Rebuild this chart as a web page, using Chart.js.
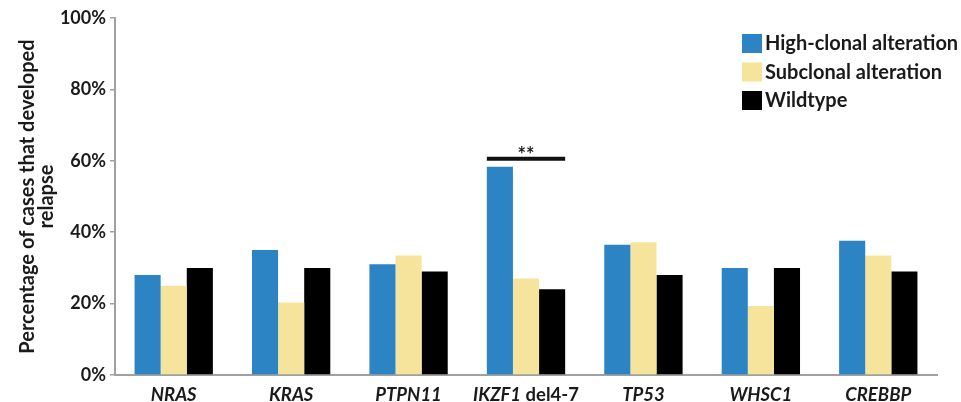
<!DOCTYPE html>
<html>
<head>
<meta charset="utf-8">
<script src="https://cdn.jsdelivr.net/npm/chart.js@4.4.0/dist/chart.umd.min.js"></script>
<style>
  html, body { margin: 0; padding: 0; background: #ffffff; }
  #wrap { width: 961px; height: 402px; position: relative; }
</style>
</head>
<body>
<div id="wrap"><canvas id="c" width="961" height="402"></canvas></div>
<script>
// Relapse rate (%) by alteration status for each gene
const categories = ['NRAS', 'KRAS', 'PTPN11', 'IKZF1 del4-7', 'TP53', 'WHSC1', 'CREBBP'];
const highClonal = [28, 35, 31, 58.3, 36.5, 30, 37.6];
const subclonal = [25, 20.3, 33.5, 27, 37.2, 19.3, 33.5];
const wildtype = [30, 30, 29, 24, 28, 30, 29];
const seriesNames = ['High-clonal alteration', 'Subclonal alteration', 'Wildtype'];
const yTicks = [0, 20, 40, 60, 80, 100];
const yTitle = ['Percentage of cases that developed', 'relapse'];
const significance = { category: 'IKZF1 del4-7', label: '**', level: 60.6 };

const COLORS = ['#2d84c5', '#f6e49c', '#000000'];
const TEXT = '#1a1a1a';
const AXIS = '#a0a0a0';
const FONT = 'Lato, "Open Sans", sans-serif';

// Axis title, legend, category labels (gene name italic) and significance bracket
const decorations = {
  id: 'decorations',
  afterDraw(chart) {
    const ctx = chart.ctx;
    const area = chart.chartArea;
    const x = chart.scales.x;
    ctx.save();

    // y-axis title
    ctx.save();
    ctx.translate(28, (area.top + area.bottom) / 2);
    ctx.rotate(-Math.PI / 2);
    ctx.fillStyle = TEXT;
    ctx.font = 'bold 20px ' + FONT;
    ctx.textAlign = 'center';
    ctx.textBaseline = 'middle';
    yTitle.forEach((line, i) => ctx.fillText(line, 0, i * 19));
    ctx.restore();

    // category labels: gene name italic, suffix upright
    ctx.fillStyle = TEXT;
    ctx.textBaseline = 'middle';
    const lf = 18.5;
    categories.forEach((cat, i) => {
      const cx = x.getPixelForValue(i);
      const sp = cat.indexOf(' ');
      const gene = sp < 0 ? cat : cat.slice(0, sp);
      const rest = sp < 0 ? '' : cat.slice(sp);
      ctx.font = 'italic bold ' + lf + 'px ' + FONT;
      const wg = ctx.measureText(gene).width;
      ctx.font = 'bold ' + lf + 'px ' + FONT;
      const wr = ctx.measureText(rest).width;
      const sx = cx - (wg + wr) / 2;
      ctx.textAlign = 'left';
      ctx.font = 'italic bold ' + lf + 'px ' + FONT;
      ctx.fillText(gene, sx, area.bottom + 20);
      ctx.font = 'bold ' + lf + 'px ' + FONT;
      ctx.fillText(rest, sx + wg, area.bottom + 20);
    });

    // legend
    const lx = 742, ly = 34, step = 28.5;
    seriesNames.forEach((name, i) => {
      ctx.fillStyle = COLORS[i];
      ctx.fillRect(lx, ly + i * step, 20, 19);
      ctx.fillStyle = TEXT;
      ctx.font = 'bold 20px ' + FONT;
      ctx.textAlign = 'left';
      ctx.textBaseline = 'middle';
      ctx.fillText(name, lx + 23, ly + i * step + 10);
    });

    // significance bracket over the high-clonal vs wildtype bars
    const idx = categories.indexOf(significance.category);
    const first = chart.getDatasetMeta(0).data[idx];
    const last = chart.getDatasetMeta(2).data[idx];
    const x0 = first.x - first.width / 2;
    const x1 = last.x + last.width / 2;
    const y = chart.scales.y.getPixelForValue(significance.level);
    ctx.strokeStyle = '#111111';
    ctx.lineWidth = 4;
    ctx.beginPath();
    ctx.moveTo(x0, y);
    ctx.lineTo(x1, y);
    ctx.stroke();
    ctx.fillStyle = TEXT;
    ctx.font = 'bold 20px ' + FONT;
    ctx.textAlign = 'center';
    ctx.textBaseline = 'alphabetic';
    ctx.fillText(significance.label, (x0 + x1) / 2, y + 3);

    ctx.restore();
  }
};

new Chart(document.getElementById('c'), {
  type: 'bar',
  data: {
    labels: categories,
    datasets: [
      { label: seriesNames[0], data: highClonal, backgroundColor: COLORS[0] },
      { label: seriesNames[1], data: subclonal, backgroundColor: COLORS[1] },
      { label: seriesNames[2], data: wildtype, backgroundColor: COLORS[2] }
    ]
  },
  options: {
    responsive: false,
    devicePixelRatio: 1,
    animation: false,
    layout: { padding: { left: 0, right: 24, top: 18, bottom: 19 } },
    datasets: { bar: { categoryPercentage: 0.667, barPercentage: 1.0, borderWidth: 0 } },
    plugins: { legend: { display: false }, tooltip: { enabled: false } },
    scales: {
      x: {
        ticks: { display: false },
        grid: { display: false },
        border: { display: true, color: AXIS, width: 2 }
      },
      y: {
        min: 0,
        max: 100,
        afterFit(scale) { scale.width = 115; },
        afterBuildTicks(scale) { scale.ticks = yTicks.map(v => ({ value: v })); },
        ticks: {
          callback: v => v + '%',
          color: TEXT,
          padding: 4,
          font: { family: FONT, size: 18, weight: 'bold' }
        },
        grid: { drawOnChartArea: false, tickLength: 5, color: AXIS, lineWidth: 1.5 },
        border: { display: true, color: AXIS, width: 2 }
      }
    }
  },
  plugins: [decorations]
});
</script>
</body>
</html>
